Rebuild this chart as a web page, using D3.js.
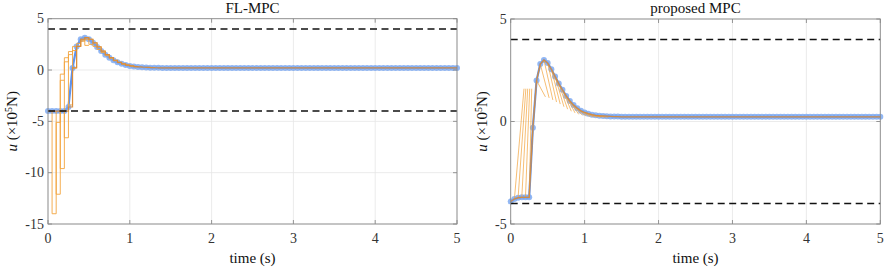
<!DOCTYPE html>
<html><head><meta charset="utf-8">
<script src="https://cdn.jsdelivr.net/npm/d3@7/dist/d3.min.js"></script>
<style>body{margin:0;background:#fff}svg{display:block}text{font-family:'Liberation Serif',serif}</style>
</head><body>
<svg id="c" width="892" height="270"></svg>
<script>
// ---------- data ----------
const dt = 0.05;
const timeTicks = [0, 1, 2, 3, 4, 5];
const flTicksY = [5, 0, -5, -10, -15];
const prTicksY = [5, 0, -5];
const uBounds = [4, -4];

// FL-MPC applied input u (x1e5 N), sampled every 0.05 s from 0 to 5 s
const flU = [
 -4.0,-4.0,-4.0,-4.0,-4.0,-3.6,0.2,2.3,3.0,3.15,
 3.0,2.65,2.25,1.85,1.5,1.2,0.95,0.75,0.6,0.48,
 0.4,0.34,0.3,0.27,0.25,0.23,0.22,0.21,0.2,0.2,
 0.2,0.2,0.2,0.2,0.2,0.2,0.2,0.2,0.2,0.2,
 0.2,0.2,0.2,0.2,0.2,0.2,0.2,0.2,0.2,0.2,
 0.2,0.2,0.2,0.2,0.2,0.2,0.2,0.2,0.2,0.2,
 0.2,0.2,0.2,0.2,0.2,0.2,0.2,0.2,0.2,0.2,
 0.2,0.2,0.2,0.2,0.2,0.2,0.2,0.2,0.2,0.2,
 0.2,0.2,0.2,0.2,0.2,0.2,0.2,0.2,0.2,0.2,
 0.2,0.2,0.2,0.2,0.2,0.2,0.2,0.2,0.2,0.2,
 0.2
];
// FL-MPC predicted input sequences (stairs), start times and held values
const flPredT = [0.05,0.10,0.15,0.20,0.25,0.30,0.35,0.40,0.45,0.50,0.55,0.60,0.65,0.70,0.75,0.80,0.85,0.90,0.95,1.00];
const flPredV = [
 [-14.0,-5.1,-1.0],
 [-12.1,-0.4,1.2],
 [-9.6,0.8,1.8],
 [-6.6,1.5,2.3],
 [-3.4,1.9,2.6],
 [0.2,2.3,2.9],
 [2.3,2.8,3.0],
 [3.0,2.4],
 [3.15,2.5],
 [3.0,2.3],
 [2.65,2.0],
 [2.25,1.7],
 [1.85,1.4],
 [1.5,1.15],
 [1.2,0.9],
 [0.95,0.72],
 [0.75,0.58],
 [0.6,0.47],
 [0.48,0.38],
 [0.4,0.32]
];

// proposed MPC applied input u (x1e5 N)
const prU = [
 -3.9,-3.78,-3.72,-3.7,-3.7,-3.7,-0.3,2.0,2.8,3.0,
 2.85,2.55,2.2,1.85,1.55,1.25,1.0,0.8,0.65,0.52,
 0.44,0.38,0.33,0.3,0.28,0.27,0.26,0.25,0.24,0.24,
 0.23,0.23,0.23,0.23,0.23,0.23,0.23,0.23,0.23,0.23,
 0.23,0.23,0.23,0.23,0.23,0.23,0.23,0.23,0.23,0.23,
 0.23,0.23,0.23,0.23,0.23,0.23,0.23,0.23,0.23,0.23,
 0.23,0.23,0.23,0.23,0.23,0.23,0.23,0.23,0.23,0.23,
 0.23,0.23,0.23,0.23,0.23,0.23,0.23,0.23,0.23,0.23,
 0.23,0.23,0.23,0.23,0.23,0.23,0.23,0.23,0.23,0.23,
 0.23,0.23,0.23,0.23,0.23,0.23,0.23,0.23,0.23,0.23,
 0.23
];
// proposed MPC predictions: start (t,u) -> end (t,u)
const prPredT0 = [0.05,0.10,0.15,0.20,0.25,0.35,0.40,0.45,0.50,0.55,0.60,0.65,0.70,0.75,0.80,0.85,0.90,0.95,1.00,1.05,1.10,1.15,1.20];
const prPredT1 = [0.18,0.205,0.23,0.257,0.284,0.47,0.52,0.57,0.62,0.67,0.72,0.77,0.82,0.87,0.92,0.97,1.02,1.07,1.12,1.17,1.22,1.27,1.32];
const prPredU1 = [1.6,1.6,1.6,1.6,1.6,1.2,1.15,1.05,0.95,0.85,0.72,0.6,0.5,0.42,0.35,0.3,0.26,0.24,0.22,0.21,0.21,0.21,0.21];

// ---------- drawing ----------
const svg = d3.select('#c');
const BLUE = '#5f93ec', BLUE_M = '#77a5f0', OR = '#f3a53f', OR_D = '#d98a35';

function panel(o) {
  const x = d3.scaleLinear().domain([0, 5]).range([o.x0, o.x1]);
  const y = d3.scaleLinear().domain(o.yDom).range([o.y1, o.y0]);
  const g = svg.append('g');
  // grid
  g.selectAll('.gx').data(timeTicks).join('line')
    .attr('x1', d => x(d)).attr('x2', d => x(d)).attr('y1', o.y0).attr('y2', o.y1)
    .attr('stroke', '#e6e6e6').attr('stroke-width', 0.8);
  g.selectAll('.gy').data(o.yTicks).join('line')
    .attr('y1', d => y(d)).attr('y2', d => y(d)).attr('x1', o.x0).attr('x2', o.x1)
    .attr('stroke', '#e6e6e6').attr('stroke-width', 0.8);

  const clip = 'clip' + o.id;
  svg.append('clipPath').attr('id', clip).append('rect')
    .attr('x', o.x0 - 4).attr('y', o.y0).attr('width', o.x1 - o.x0 + 8).attr('height', o.y1 - o.y0);
  const pg = g.append('g').attr('clip-path', `url(#${clip})`);

  const t = o.u.map((d, i) => i * dt);
  // blue applied input with markers
  pg.append('path').datum(o.u)
    .attr('d', d3.line().x((d, i) => x(t[i])).y(d => y(d)))
    .attr('fill', 'none').attr('stroke', BLUE).attr('stroke-width', 2.2);
  pg.selectAll('.m').data(o.u).join('circle')
    .attr('cx', (d, i) => x(t[i])).attr('cy', d => y(d)).attr('r', 3)
    .attr('fill', BLUE_M).attr('fill-opacity', 0.8);

  o.drawPred(pg, x, y, t);

  // constraints
  pg.selectAll('.b').data(uBounds).join('line')
    .attr('x1', o.x0).attr('x2', o.x1).attr('y1', d => y(d)).attr('y2', d => y(d))
    .attr('stroke', '#111').attr('stroke-width', 1.5).attr('stroke-dasharray', '7,4.5');

  // box
  g.append('rect').attr('x', o.x0).attr('y', o.y0).attr('width', o.x1 - o.x0).attr('height', o.y1 - o.y0)
    .attr('fill', 'none').attr('stroke', '#8a8a8a').attr('stroke-width', 0.9);
  // ticks (inside)
  g.selectAll('.tx').data(timeTicks).join('path')
    .attr('d', d => `M${x(d)},${o.y1}v-4M${x(d)},${o.y0}v4`).attr('stroke', '#8a8a8a').attr('stroke-width', 0.9);
  g.selectAll('.ty').data(o.yTicks).join('path')
    .attr('d', d => `M${o.x0},${y(d)}h4M${o.x1},${y(d)}h-4`).attr('stroke', '#8a8a8a').attr('stroke-width', 0.9);
  // tick labels
  g.selectAll('.lx').data(timeTicks).join('text')
    .attr('x', d => x(d)).attr('y', o.y1 + 19).attr('text-anchor', 'middle')
    .attr('font-size', 14).attr('fill', '#333').text(d => d);
  g.selectAll('.ly').data(o.yTicks).join('text')
    .attr('x', o.x0 - 4).attr('y', d => y(d) + 4.5).attr('text-anchor', 'end')
    .attr('font-size', 14).attr('fill', '#333').text(d => d);
  // title
  g.append('text').attr('x', (o.x0 + o.x1) / 2).attr('y', 13).attr('text-anchor', 'middle')
    .attr('font-size', 15).attr('fill', '#111').text(o.title);
  // x label
  g.append('text').attr('x', (o.x0 + o.x1) / 2).attr('y', 263).attr('text-anchor', 'middle')
    .attr('font-size', 15).attr('fill', '#111').text('time (s)');
  // y label
  const yl = g.append('text').attr('transform', `translate(${o.ylx},${(o.y0 + o.y1) / 2}) rotate(-90)`)
    .attr('text-anchor', 'middle').attr('font-size', 15).attr('fill', '#111');
  yl.append('tspan').attr('font-style', 'italic').text('u');
  yl.append('tspan').text(' (×10');
  yl.append('tspan').attr('font-size', 10).attr('dy', -5).text('5');
  yl.append('tspan').attr('dy', 5).text('N)');
}

panel({
  id: 'L', x0: 48, x1: 457, y0: 18.7, y1: 224, yDom: [-15, 5], yTicks: flTicksY,
  u: flU, title: 'FL-MPC', ylx: 17,
  drawPred(pg, x, y, t) {
    flPredT.forEach((ts, k) => {
      const i = Math.round(ts / dt);
      let d = `M${x(ts)},${y(flU[i])}`;
      flPredV[k].forEach((v, j) => { d += `V${y(v)}H${x(ts + (j + 1) * dt)}`; });
      pg.append('path').attr('d', d).attr('fill', 'none')
        .attr('stroke', OR).attr('stroke-width', 1).attr('stroke-opacity', 0.9);
    });
    pg.append('path').datum(flU)
      .attr('d', d3.line().curve(d3.curveStepAfter).x((d, i) => x(t[i])).y(d => y(d)))
      .attr('fill', 'none').attr('stroke', OR_D).attr('stroke-width', 1.2).attr('stroke-opacity', 0.9);
  }
});

panel({
  id: 'R', x0: 510.7, x1: 880.3, y0: 19, y1: 224, yDom: [-5, 5], yTicks: prTicksY,
  u: prU, title: 'proposed MPC', ylx: 487,
  drawPred(pg, x, y, t) {
    prPredT0.forEach((ts, k) => {
      const i = Math.round(ts / dt);
      pg.append('line').attr('x1', x(ts)).attr('y1', y(prU[i]))
        .attr('x2', x(prPredT1[k])).attr('y2', y(prPredU1[k]))
        .attr('stroke', OR).attr('stroke-width', 0.8).attr('stroke-opacity', 0.9);
    });
    pg.append('path').datum(prU)
      .attr('d', d3.line().x((d, i) => x(t[i])).y(d => y(d)))
      .attr('fill', 'none').attr('stroke', OR_D).attr('stroke-width', 1.3).attr('stroke-opacity', 0.9);
  }
});
</script>
</body></html>
